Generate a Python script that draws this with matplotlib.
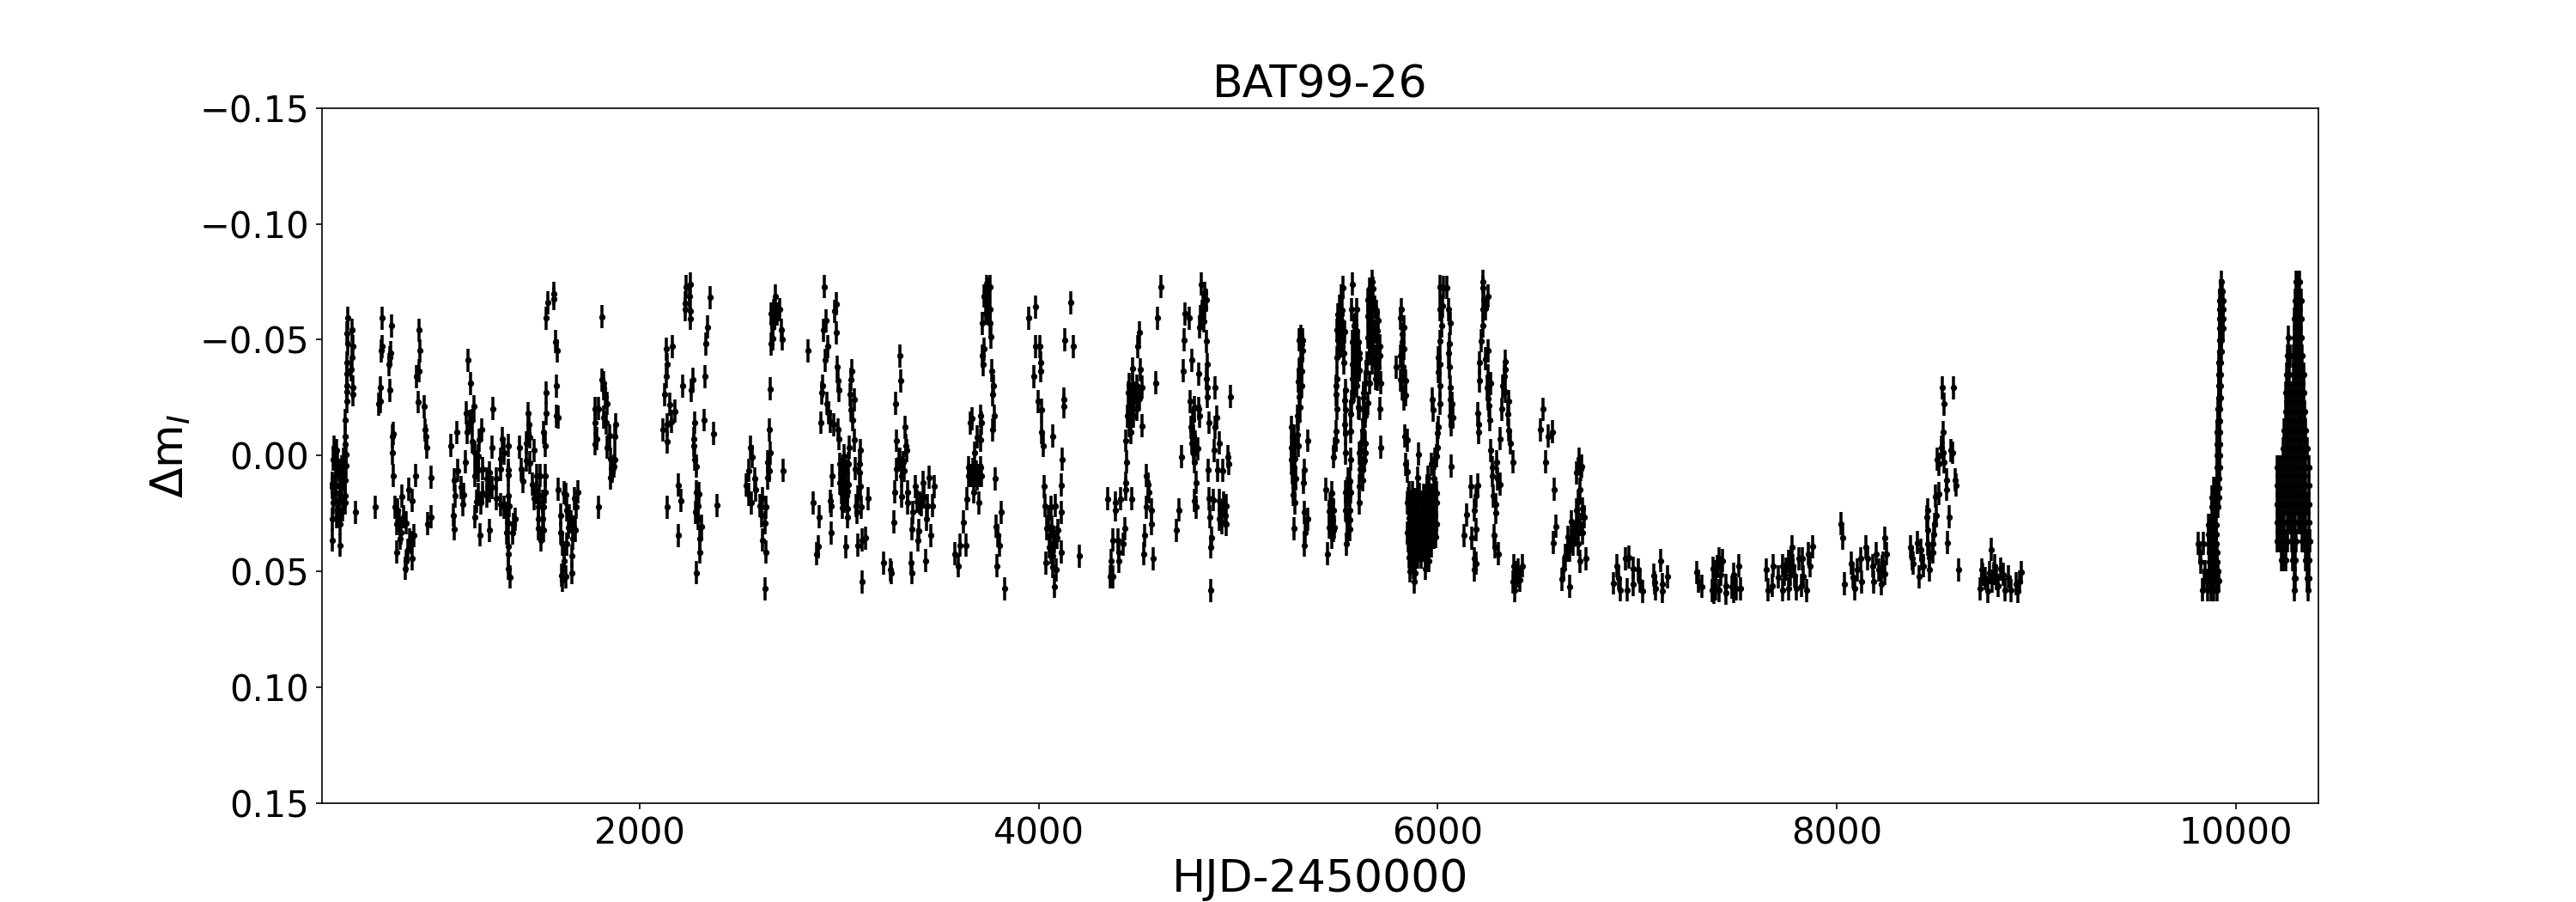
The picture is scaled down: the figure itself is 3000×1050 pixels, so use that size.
import matplotlib
matplotlib.use('Agg')
import matplotlib.pyplot as plt

# (HJD-2450000, delta m), one list per observing season
season_01 = [(461, .0365), (500, .0387), (461, .0275), (500, .0295), (465, .0205), (461, .0137), (461, .012), (465, .0017),
             (470, -.0036), (480, -.0023), (487, .0032), (475, .0088), (475, .0162), (487, .0236), (494, .02), (498, .0137),
             (508, .01), (508, .005), (523, .0174), (523, .0205), (523, .0106), (530, .0044), (530, -.0005), (523, -.0048),
             (523, -.0083), (526, -.0153), (534, -.0233), (534, -.0276), (534, -.03), (534, -.0353), (534, -.04), (538, -.0483),
             (534, -.0529), (538, -.0593), (560, -.0541), (564, -.0471), (560, -.0424), (556, -.0371), (564, -.0295),
             (564, -.0264), (577, .0245), (472, .0014), (494, .0063), (508, .0137), (515, .0014), (480, .0266), (494, .026),
             (512, .0236), (478, .0125), (515, .0075)]
season_02 = [(676, .0223), (711, -.0593), (711, -.0471), (705, -.0453), (702, -.0293), (702, -.0233), (693, -.0223),
             (758, -.056), (752, -.0443), (749, -.0424), (745, -.0393), (749, -.0282), (767, -.0095), (762, -.0083),
             (762, -.0011), (767, .0088), (896, -.0541), (900, -.0453), (896, -.0365), (883, -.0342), (891, -.0231),
             (921, -.0212), (926, -.0112), (930, -.0083), (934, -.0036), (878, .0088), (956, .0095), (774, .0223), (810, .0176),
             (844, .0147), (860, .0195), (788, .0236), (781, .0295), (795, .0279), (802, .0334), (799, .0359), (784, .0417),
             (817, .0266), (831, .0291), (845, .0365), (867, .0346), (857, .0377), (838, .0408), (861, .0445), (831, .0457),
             (827, .0488), (939, .0295), (953, .0266)]
season_03 = [(1055, -.0042), (1085, -.0101), (1089, .0065), (1071, .0106), (1075, .0174), (1068, .0258), (1072, .0317),
             (1128, .0028), (1118, .0168), (1104, .0137), (1115, .0211), (1141, -.0412), (1154, -.0312), (1171, -.0212),
             (1132, -.0184), (1147, -.0147), (1137, -.0101), (1161, -.0153), (1161, -.006), (1172, -.0011), (1182, .0038),
             (1190, .0001), (1172, .0088), (1190, .0063), (1211, .0057), (1210, -.0112), (1197, -.0067), (1266, -.0202),
             (1261, -.0036), (1313, -.0073), (1319, -.0011), (1340, -.0042), (1301, .0014), (1304, .006), (1340, .0063),
             (1340, .0084), (1283, .01), (1247, .0075), (1233, .01), (1261, .0137), (1190, .0168), (1211, .0162), (1233, .0174),
             (1247, .0155), (1182, .0199), (1204, .0205), (1175, .0266), (1201, .0344), (1248, .0322), (1283, .0186),
             (1304, .0211), (1319, .0223), (1340, .0174), (1347, .0217), (1333, .0248), (1340, .0291), (1376, .0275),
             (1369, .0297), (1364, .0334), (1333, .0334), (1343, .0393), (1343, .0424), (1343, .0488), (1352, .0525)]
season_04 = [(1399, -.0036), (1405, .0059), (1416, .0112), (1442, -.0182), (1445, -.0134), (1441, -.0097), (1433, -.0054),
             (1448, -.0079), (1472, -.0023), (1433, .002), (1451, .0032), (1484, .0088), (1502, .0088), (1526, .0088),
             (1462, .0125), (1484, .0162), (1469, .0186), (1498, .0174), (1526, .0158), (1512, .0199), (1491, .0223),
             (1519, .0223), (1491, .0272), (1512, .0272), (1491, .0316), (1519, .0322), (1505, .0365), (1532, -.027),
             (1532, -.0182), (1519, -.0101), (1528, -.0042), (1532, -.0593), (1541, -.0661), (1572, -.0699), (1571, -.0677),
             (1580, -.0492), (1588, -.0453), (1584, -.0301), (1584, -.0171), (1591, -.0165), (1592, .0147), (1620, .0162),
             (1631, .0168), (1603, .0258), (1603, .0334), (1613, .0383), (1620, .042), (1608, .0517), (1614, .0538),
             (1631, .0523), (1623, .0457), (1634, .0383), (1641, .031), (1656, .0285), (1670, .031), (1677, .0322),
             (1673, .0186), (1681, .0223), (1691, .0158), (1661, .0435), (1661, .0507), (1634, .0236), (1648, .026),
             (1663, .0359)]
season_05 = [(1812, -.06), (1795, .0223), (1809, -.0326), (1820, -.0313), (1820, -.0289), (1828, -.0252), (1838, -.0224),
             (1775, -.0202), (1795, -.0202), (1778, -.0141), (1818, -.0165), (1785, -.0073), (1775, -.0051), (1832, -.0141),
             (1878, -.0134), (1849, -.0085), (1875, -.0083), (1835, -.0036), (1856, .0014), (1875, .0017), (1871, .0047),
             (1861, .0069), (1855, .0096)]
season_06 = [(2117, -.0112), (2139, -.006), (2139, -.0134), (2158, -.0147), (2176, -.0192), (2150, -.0221), (2125, -.0264),
             (2133, -.0342), (2139, -.0393), (2135, -.046), (2165, -.0471), (2216, -.0301), (2259, -.0282), (2268, -.0329),
             (2328, -.0342), (2321, -.0153), (2371, -.0095), (2332, -.0483), (2341, -.0554), (2354, -.0682), (2277, -.0142),
             (2272, -.0072), (2272, -.0042), (2277, .0017), (2285, .0047), (2195, .0128), (2205, .0195), (2139, .0223),
             (2195, .0345), (2286, .0158), (2298, .0165), (2294, .0217), (2279, .0245), (2294, .0272), (2308, .0306),
             (2301, .0359), (2302, .0417), (2285, .0506), (2388, .0216), (2232, -.073), (2255, -.0741), (2229, -.0658),
             (2229, -.063), (2251, -.0689), (2255, -.0623), (2255, -.0591)]
season_07 = [(2681, -.0689), (2660, -.0612), (2674, -.0591), (2703, -.063), (2667, -.0554), (2709, -.0541), (2667, -.0504),
             (2713, -.0502), (2660, -.0483), (2656, -.0287), (2648, -.0112), (2653, -.0011), (2643, .0028), (2650, .0065),
             (2643, .0096), (2720, .0065), (2557, -.0036), (2564, .0005), (2545, .0065), (2534, .0128), (2545, .0168),
             (2560, .0205), (2578, .01), (2581, .0149), (2603, .0217), (2617, .0186), (2631, .0223), (2610, .026),
             (2627, .0291), (2617, .0365), (2634, .0417), (2630, .0576), (2672, -.0628), (2664, -.0575), (2690, -.0610)]
season_08 = [(2845, -.0453), (2927, -.073), (2987, -.0655), (2978, -.0623), (2935, -.0582), (2922, -.0541), (2987, -.0531),
             (2944, -.0471), (2931, -.0412), (2991, -.0382), (3064, -.0365), (2995, -.0323), (3060, -.0329), (2918, -.0301),
             (2914, -.027), (3000, -.0282), (3056, -.0264), (3077, -.0242), (2939, -.0224), (3060, -.0196), (2948, -.0184),
             (2909, -.0142), (2957, -.0147), (2974, -.0134), (3069, -.0153), (2995, -.0112), (3000, -.0072), (3077, -.0067),
             (3051, -.0036), (3107, -.0023), (3026, .0001), (3004, .0038), (3047, .0035), (3103, .0035), (3082, .0058),
             (2965, .0088), (3004, .0118), (3033, .0069), (3018, .0112), (3103, .0075), (3047, .0125), (3107, .0134),
             (3011, .0162), (3040, .0155), (3026, .0199), (3093, .018), (3146, .0186), (2871, .0205), (2957, .0196),
             (2961, .0217), (3086, .0217), (3112, .0223), (3090, .0245), (3040, .0229), (2901, .0265), (3040, .0266),
             (2961, .0334), (2897, .0393), (2888, .0424), (3034, .0393), (3094, .0387), (3116, .0365), (3133, .0356),
             (3116, .0546), (3015, .006), (3028, .0125), (3010, .0095), (3022, .0045), (3036, .0175), (3015, .0225)]
season_09 = [(3305, -.043), (3309, -.0323), (3284, -.0224), (3331, -.0123), (3288, -.0064), (3335, -.0042), (3340, -.0023),
             (3305, .0014), (3312, .0057), (3288, .0059), (3327, .0065), (3312, .0088), (3279, .0158), (3314, .0176),
             (3344, .0158), (3383, .0134), (3421, .0116), (3451, .0095), (3477, .0134), (3344, .0205), (3391, .0199),
             (3413, .0211), (3441, .0217), (3467, .0217), (3370, .0245), (3275, .0287), (3438, .0275), (3365, .0317),
             (3400, .0324), (3396, .0365), (3460, .0346), (3223, .0464), (3258, .0494), (3262, .0506), (3361, .0464),
             (3365, .0506), (3434, .0454), (3298, .0015), (3320, .0030), (3402, .0205), (3425, .0180)]
season_10 = [(3740, -.073), (3754, -.073), (3725, -.0689), (3743, -.0665), (3756, -.063), (3718, -.0571), (3757, -.0571),
             (3761, -.0512), (3725, -.046), (3718, -.043), (3722, -.0393), (3764, -.0365), (3774, -.0301), (3770, -.0264),
             (3710, -.0171), (3778, -.0171), (3659, -.0141), (3714, -.0141), (3770, -.0112), (3707, -.0067), (3692, -.0079),
             (3679, -.0011), (3649, .0051), (3649, .0088), (3678, .0088), (3707, .0051), (3714, .0088), (3692, .01),
             (3783, .01), (3675, .0158), (3641, .0187), (3701, .0205), (3813, .0245), (3624, .0287), (3787, .0306),
             (3796, .0346), (3606, .0387), (3636, .0387), (3804, .0387), (3580, .0424), (3598, .0476), (3791, .0476),
             (3830, .0576), (3665, -.0160), (3670, .0060), (3662, .0085), (3685, .0070), (3700, .0085), (3733, -.0700),
             (3747, -.0610), (3733, -.0615), (3748, -.0720)]
season_11 = [(3985, -.0642), (3951, -.0593), (4161, -.0661), (4131, -.05), (4174, -.0471), (3985, -.0471), (4007, -.0471),
             (4011, -.04), (4011, -.0365), (3976, -.0342), (3998, -.0233), (4015, -.0196), (4127, -.0243), (4127, -.0212),
             (4015, -.0101), (4071, -.0083), (4024, -.0042), (4118, .0017), (4111, .0128), (4028, .0134), (4032, .0217),
             (4061, .0223), (4084, .0217), (4111, .0245), (4041, .0316), (4098, .0322), (4058, .0346), (4080, .0371),
             (4051, .0396), (4072, .0433), (4115, .0417), (4037, .0464), (4087, .0494), (4204, .0435), (4080, .0565),
             (4066, .0310), (4075, .0385), (4060, .0420), (4090, .0355), (4068, .0480), (4050, .0265)]
season_12 = [(4614, -.073), (4596, -.0593), (4503, -.053), (4498, -.0471), (4507, -.0371), (4470, -.0375), (4587, -.0313),
             (4452, -.0307), (4517, -.0295), (4481, -.027), (4448, -.027), (4503, -.0245), (4467, -.0221), (4445, -.0171),
             (4474, -.0171), (4517, -.0128), (4462, -.0101), (4437, -.0064), (4441, .0028), (4541, .0088), (4437, .0118),
             (4437, .0147), (4548, .0125), (4554, .0158), (4346, .0187), (4385, .0205), (4412, .0187), (4467, .0187),
             (4539, .0223), (4563, .0236), (4385, .0236), (4567, .0295), (4432, .0316), (4531, .0346), (4372, .0365),
             (4395, .0365), (4424, .0383), (4402, .042), (4527, .0424), (4361, .0454), (4402, .0457), (4574, .0445),
             (4359, .0523), (4373, .0523), (4458, -.0240), (4470, -.0300), (4490, -.0200), (4455, -.0130), (4475, -.0245),
             (4462, -.0190), (4490, -.0300)]
season_13 = [(4815, -.0741), (4832, -.0702), (4840, -.0671), (4818, -.0623), (4825, -.0652), (4807, -.0554), (4818, -.0591),
             (4733, -.0612), (4755, -.0593), (4729, -.05), (4841, -.0493), (4768, -.0412), (4725, -.0365), (4802, -.0353),
             (4845, -.0393), (4841, -.0332), (4844, -.0295), (4884, -.0293), (4844, -.0254), (4962, -.0254), (4759, -.0233),
             (4782, -.0208), (4802, -.0202), (4804, -.0171), (4893, -.0165), (4772, -.0153), (4854, -.0142), (4764, -.0122),
             (4883, -.0122), (4775, -.0085), (4768, -.0054), (4906, -.0054), (4797, -.003), (4880, -.0023), (4716, .0006),
             (4949, .0006), (4782, .0028), (4953, .0035), (4850, .0063), (4897, .0063), (4923, .0065), (4789, .0116),
             (4855, .0186), (4875, .0192), (4906, .0195), (4779, .0195), (4789, .0223), (4940, .0217), (4703, .0236),
             (4858, .0266), (4906, .0275), (4933, .026), (4940, .0297), (4689, .0323), (4865, .0356), (4863, .0396),
             (4863, .0583), (4830, -.0640), (4812, -.0600), (4828, -.0580), (4915, .0240), (4925, .0205), (4918, .0290),
             (4775, -.0010), (4785, -.0060), (4768, -.0110)]
season_14 = [(5306, -.05), (5321, -.05), (5314, -.0516), (5318, -.048), (5321, -.0453), (5306, -.0371), (5316, -.0365),
             (5316, -.0301), (5306, -.0254), (5295, -.0171), (5302, -.0153), (5266, -.0123), (5266, -.0036), (5302, -.0042),
             (5266, .0017), (5278, .0051), (5271, .0075), (5289, .01), (5278, .0137), (5275, .0168), (5285, .0205),
             (5281, .0316), (5349, -.0064), (5332, .0064), (5328, .0117), (5332, .0245), (5347, .0275), (5335, .0334),
             (5332, .0387), (5285, -.0048), (5278, -.0085), (5271, -.0011), (5285, .0014), (5312, -.0420), (5302, -.0320),
             (5310, -.0210), (5295, -.0090)]
season_15 = [(5524, -.0726), (5514, -.0689), (5507, -.0646), (5521, -.0628), (5500, -.0609), (5514, -.0584), (5496, -.0541),
             (5514, -.0541), (5533, -.0535), (5507, -.0498), (5522, -.0473), (5530, -.0443), (5496, -.0424), (5530, -.04),
             (5496, -.0332), (5491, -.0301), (5539, -.0282), (5491, -.0264), (5533, -.0239), (5496, -.0202), (5539, -.0196),
             (5533, -.0134), (5490, -.0104), (5539, -.0097), (5490, -.0064), (5481, -.003), (5539, -.0011), (5478, .0005),
             (5573, -.0741), (5569, -.063), (5595, -.063), (5586, -.0566), (5572, -.0492), (5600, -.0492), (5586, -.0443),
             (5608, -.0443), (5572, -.0393), (5593, -.0369), (5572, -.0332), (5593, -.0301), (5569, -.0233), (5600, -.0208),
             (5565, -.0178), (5565, -.0104), (5629, -.0153), (5622, -.011), (5636, -.0054), (5608, -.0011), (5636, -.0011),
             (5565, .0017), (5615, .0014), (5622, .0063), (5605, .0131), (5622, .0106), (5608, .0205), (5557, .0112),
             (5539, .0158), (5565, .0158), (5543, .0186), (5557, .0236), (5539, .0236), (5557, .0279), (5546, .034),
             (5543, .0383), (5440, .0147), (5467, .0162), (5467, .0199), (5476, .0236), (5457, .0242), (5471, .0279),
             (5457, .031), (5476, .0322), (5467, .0353), (5448, .0424), (5672, -.0751), (5658, -.072), (5676, -.0722),
             (5651, -.0671), (5672, -.0665), (5694, -.0621), (5651, -.0603), (5672, -.0578), (5701, -.0584), (5648, -.0511),
             (5665, -.0504), (5686, -.0535), (5708, -.0473), (5658, -.0443), (5686, -.043), (5708, -.043), (5643, -.04),
             (5701, -.0381), (5686, -.0332), (5715, -.0313), (5658, -.0313), (5639, -.0362), (5636, -.0313), (5651, -.0227),
             (5708, -.0202), (5715, -.0036), (5629, -.027), (5608, -.0202)]
season_15_fill = [(5505, -.0600), (5518, -.0610), (5507, -.0550), (5520, -.0520), (5508, -.0470), (5500, -.0500), (5520, -.0570),
                  (5581, -.0560), (5593, -.0540), (5580, -.0480), (5593, -.0490), (5605, -.0420), (5581, -.0420), (5592, -.0420),
                  (5580, -.0360), (5605, -.0370), (5582, -.0280), (5596, -.0350), (5664, -.0700), (5664, -.0620), (5682, -.0640),
                  (5660, -.0560), (5676, -.0530), (5695, -.0540), (5660, -.0490), (5676, -.0460), (5695, -.0470), (5670, -.0400),
                  (5690, -.0390), (5698, -.0330), (5620, -.0060), (5630, .0020), (5612, .0060), (5628, -.0250), (5635, -.0170),
                  (5470, .0290), (5480, .0310), (5462, .0210), (5550, .0100), (5555, .0170), (5548, .0280), (5558, .0320)]
season_16 = [(5818, -.063), (5815, -.0593), (5831, -.0554), (5820, -.0523), (5823, -.0492), (5830, -.0461), (5815, -.043),
             (5791, -.0382), (5826, -.0383), (5815, -.0326), (5840, -.0323), (5823, -.0289), (5840, -.0261), (5830, -.0245),
             (6012, -.073), (6029, -.0726), (6045, -.0726), (6009, -.063), (6023, -.0646), (6055, -.063), (6063, -.0571),
             (6020, -.056), (6012, -.0493), (6059, -.0483), (6055, -.0441), (6002, -.0424), (6059, -.0382), (6009, -.0393),
             (6002, -.0362), (6063, -.0295), (6009, -.0301), (5973, -.0243), (6063, -.0242), (6009, -.0224), (6069, -.0224),
             (5977, -.0196), (6063, -.0171), (6074, -.0165), (6002, -.0122), (6068, -.0134), (5998, -.0097), (5998, -.0036),
             (6068, .0046), (5995, .0001), (5835, -.0083), (5846, -.0067), (5904, -.0005), (5837, .0038), (5848, .0069),
             (5900, .0096), (5966, .0038), (5987, .0014), (5952, .0094), (5945, .0131), (5980, .01), (5995, .0162),
             (5973, .0174), (5846, .0205), (5873, .0162), (5909, .0168), (5937, .0199), (5887, .0217), (5959, .0223),
             (5992, .0205), (5859, .0254), (5902, .0248), (5930, .0254), (5987, .026), (5880, .0297), (5916, .0297),
             (5952, .0303), (5848, .0334), (5894, .0334), (5973, .0334), (5866, .0371), (5916, .0359), (5945, .0365),
             (5980, .0353), (5859, .0402), (5909, .0408), (5952, .0396), (5866, .0445), (5916, .0439), (5956, .0454),
             (5939, .0488), (5876, .0482), (5887, .0507), (5883, .0546), (5866, .0297), (5930, .0297), (5959, .026),
             (5894, .026), (5851, .0186), (5873, .0334), (5894, .0396), (5930, .0334), (5995, .0297)]
season_16_fill = [(5858, .0160), (5866, .0210), (5880, .0190), (5895, .0190), (5921, .0200), (5930, .0170), (5948, .0150),
                  (5966, .0170), (5985, .0150), (5855, .0270), (5872, .0260), (5888, .0280), (5918, .0260), (5942, .0270),
                  (5950, .0230), (5970, .0250), (5978, .0290), (5856, .0330), (5885, .0320), (5905, .0320), (5922, .0330),
                  (5942, .0320), (5960, .0320), (5985, .0320), (5853, .0370), (5878, .0380), (5900, .0370), (5930, .0380),
                  (5958, .0360), (5968, .0390), (5990, .0350), (5874, .0420), (5890, .0430), (5900, .0440), (5926, .0410),
                  (5936, .0420), (5946, .0430), (5854, .0440), (5862, .0500), (5878, .0420), (5970, .0200), (5955, .0130)]
season_17 = [(6167, .0134), (6201, .0128), (6193, .0175), (6145, .0256), (6183, .0236), (6131, .0345), (6193, .0319),
             (6171, .0356), (6181, .0445), (6193, .0465), (6184, .0494), (6224, -.0751), (6227, -.0726), (6253, -.0689),
             (6231, -.0671), (6239, -.0634), (6224, -.063), (6227, -.056), (6217, -.0496), (6253, -.0453), (6241, -.0418),
             (6210, -.0401), (6253, -.0344), (6207, -.0323), (6266, -.0312), (6246, -.0295), (6253, -.0245), (6257, -.0215),
             (6261, -.0153), (6201, -.0182), (6203, -.0134), (6206, -.0101), (6266, -.0023), (6275, .0051), (6296, .0028),
             (6275, .0088), (6310, .0125), (6297, .01), (6279, .0175), (6289, .0211), (6292, .0247), (6283, .0346),
             (6286, .0395), (6304, .0424), (6313, -.0072), (6322, -.0201), (6336, -.0371), (6339, -.0406), (6332, -.0344),
             (6325, -.0301), (6339, -.0276), (6353, -.0233), (6350, -.0178), (6353, -.011), (6365, -.0054), (6375, .0028)]
season_18 = [(6382, .0476), (6425, .0476), (6403, .0494), (6375, .0546), (6385, .0583), (6411, .0538), (6396, .0519),
             (6389, .0507)]
season_19 = [(6528, -.0201), (6515, -.0112), (6554, -.0083), (6573, -.0102), (6541, .0028), (6584, .0146), (6593, .0306),
             (6580, .0376), (6706, .0014), (6719, .0047), (6697, .0075), (6712, .0146), (6705, .0199), (6726, .023),
             (6697, .0236), (6733, .0266), (6669, .0285), (6712, .0297), (6654, .0353), (6683, .0334), (6726, .0334),
             (6676, .0383), (6705, .0383), (6640, .0433), (6662, .0408), (6712, .0457), (6743, .0445), (6629, .0488),
             (6623, .0534), (6662, .0565), (6715, .0060), (6690, .0330), (6700, .0280), (6668, .0370), (6650, .0410)]
season_20 = [(6881, .0552), (6898, .0476), (6905, .0531), (6915, .0581), (6941, .0445), (6958, .0439), (6977, .0488),
             (6948, .0581), (7003, .0494), (6977, .0556), (7013, .0544), (7027, .0587), (7082, .0517), (7118, .0454),
             (7085, .055), (7125, .0556), (7125, .0587), (7092, .0575), (7152, .0523), (7297, .0504), (7307, .0544),
             (7322, .0565), (7379, .0488), (7408, .0445), (7426, .0454), (7419, .0513), (7375, .0583), (7393, .0575),
             (7411, .0583), (7383, .0556), (7445, .0562), (7444, .0593), (7510, .0476), (7484, .0513), (7475, .0568),
             (7494, .0575), (7518, .0576), (7484, .0587), (7390, .0500), (7400, .0480), (7385, .0590)]
season_21 = [(7647, .0494), (7680, .0476), (7656, .0581), (7676, .0562), (7705, .0525), (7728, .0476), (7728, .0581),
             (7738, .0513), (7759, .0457), (7759, .0575), (7776, .0396), (7781, .0476), (7766, .0513), (7798, .0575),
             (7809, .0445), (7828, .0445), (7832, .0523), (7824, .0562), (7847, .0583), (7858, .0424), (7867, .0476),
             (7880, .0393), (7745, .0490), (7770, .0450), (7790, .0520)]
season_22 = [(8021, .0295), (8030, .0356), (8039, .0554), (8073, .0465), (8082, .0525), (8090, .0576), (8103, .0494),
             (8125, .0546), (8118, .0445), (8146, .0396), (8153, .0445), (8185, .0546), (8181, .0476), (8198, .0424),
             (8211, .0494), (8222, .0554), (8232, .0464), (8241, .0356), (8247, .0424), (8225, .0480), (8238, .0510)]
season_23 = [(8371, .0395), (8376, .0445), (8383, .0465), (8404, .0377), (8413, .0523), (8419, .0408), (8433, .0476),
             (8426, .0445), (8455, .0236), (8450, .0266), (8455, .0322), (8455, .0383), (8462, .0439), (8465, .0494),
             (8480, .0417), (8485, .034), (8491, .0297), (8498, .026), (8495, .0176), (8512, .0165), (8483, .0383),
             (8502, .0017), (8512, .0038), (8526, -.0036), (8531, -.0101), (8534, -.0011), (8538, .0028), (8529, -.0293),
             (8538, -.0223), (8585, -.0293), (8572, -.0023), (8581, -.0012), (8548, .0106), (8551, .0147), (8594, .0106),
             (8598, .0128), (8564, .0265), (8555, .0376), (8611, .0494)]
season_24 = [(8716, .0576), (8724, .0494), (8731, .0513), (8775, .0406), (8757, .0587), (8763, .0507), (8792, .0476),
             (8777, .0544), (8809, .0562), (8835, .0513), (8843, .0581), (8860, .0525), (8873, .0583), (8899, .0554),
             (8925, .0504), (8916, .0546), (8909, .0587), (8745, .0530), (8785, .0510), (8800, .0530), (8822, .0490)]
# last two seasons are dense, kept as delta m with the HJDs seen at that level
season_25 = [(-.075, [9927]), (-.071, [9922, 9932]), (-.067, [9918, 9926, 9935]), (-.063, [9916, 9926, 9936]), (-.059, [9916, 9926, 9936]),
             (-.055, [9916, 9926, 9935]), (-.05, [9916, 9927]), (-.045, [9916, 9925]), (-.04, [9914, 9924]), (-.035, [9914, 9924]),
             (-.03, [9912, 9922]), (-.025, [9912, 9922]), (-.02, [9910, 9920]), (-.015, [9908, 9918]), (-.01, [9907, 9917]),
             (-.005, [9906, 9916]), (0, [9906, 9916]), (.005, [9907, 9917]), (.01, [9905, 9915]), (.014, [9888, 9900, 9914]),
             (.018, [9880, 9892, 9903, 9912]), (.022, [9880, 9895, 9910]), (.026, [9885, 9897]), (.03, [9862, 9875, 9888, 9900]),
             (.034, [9862, 9878, 9892, 9902]), (.038, [9810, 9838, 9862, 9872, 9885, 9900]), (.042, [9820, 9865, 9875, 9890, 9905]),
             (.046, [9824, 9865, 9878, 9892, 9905]), (.05, [9845, 9868, 9880, 9895, 9910]), (.054, [9840, 9860, 9873, 9885, 9900, 9912]),
             (.058, [9831, 9858, 9873, 9890, 9907])]
season_26 = [(-.075, [10300, 10310, 10318]), (-.067, [10295, 10305, 10315, 10325]), (-.059, [10294, 10306, 10317, 10326]),
             (-.051, [10262, 10292, 10304, 10316, 10328]), (-.043, [10260, 10270, 10290, 10302, 10314, 10326, 10333]),
             (-.035, [10255, 10268, 10290, 10302, 10314, 10326, 10338]),
             (-.027, [10250, 10262, 10274, 10290, 10302, 10314, 10326, 10340]),
             (-.019, [10248, 10260, 10272, 10285, 10297, 10309, 10321, 10333, 10345]),
             (-.011, [10240, 10252, 10264, 10276, 10288, 10300, 10312, 10324, 10336, 10350]),
             (-.003, [10236, 10248, 10260, 10272, 10284, 10296, 10308, 10320, 10332, 10344, 10358]),
             (.005, [10206, 10218, 10230, 10242, 10254, 10266, 10278, 10290, 10302, 10314, 10326, 10338, 10350, 10364]),
             (.013, [10206, 10218, 10230, 10242, 10254, 10266, 10278, 10290, 10302, 10314, 10326, 10338, 10350, 10366]),
             (.021, [10205, 10217, 10229, 10241, 10253, 10265, 10277, 10289, 10301, 10313, 10329, 10341, 10353, 10366]),
             (.029, [10206, 10218, 10230, 10242, 10256, 10272, 10284, 10296, 10312, 10326, 10338, 10350, 10366]),
             (.037, [10208, 10220, 10232, 10244, 10256, 10278, 10290, 10303, 10333, 10345, 10357, 10368]),
             (.045, [10226, 10238, 10250, 10282, 10296, 10347, 10358, 10367]), (.053, [10291, 10297, 10356, 10364]), (.058, [10293, 10360])]
dm_err = 0.005

paired = [season_01, season_02, season_03, season_04, season_05, season_06, season_07, season_08, season_09, season_10,
          season_11, season_12, season_13, season_14, season_15, season_15_fill, season_16, season_16_fill, season_17,
          season_18, season_19, season_20, season_21, season_22, season_23, season_24]

hjd = []
dm = []
for season in paired:
    for t, m in season:
        hjd.append(t)
        dm.append(m)
for season in [season_25, season_26]:
    for m, times in season:
        for t in times:
            hjd.append(t)
            dm.append(m)

fig, ax = plt.subplots(figsize=(20, 7))
ax.errorbar(hjd, dm, yerr=dm_err, fmt='k.', markersize=5, elinewidth=1.7)
ax.set_xlim(408, 10413)
ax.set_ylim(0.15, -0.15)
ax.set_xlabel('HJD-2450000', fontsize=25)
ax.set_ylabel(r'$\Delta$m$_I$', fontsize=25)
ax.set_title('BAT99-26', fontsize=25)
ax.tick_params(labelsize=20)
fig.savefig('out.png', dpi=150)
